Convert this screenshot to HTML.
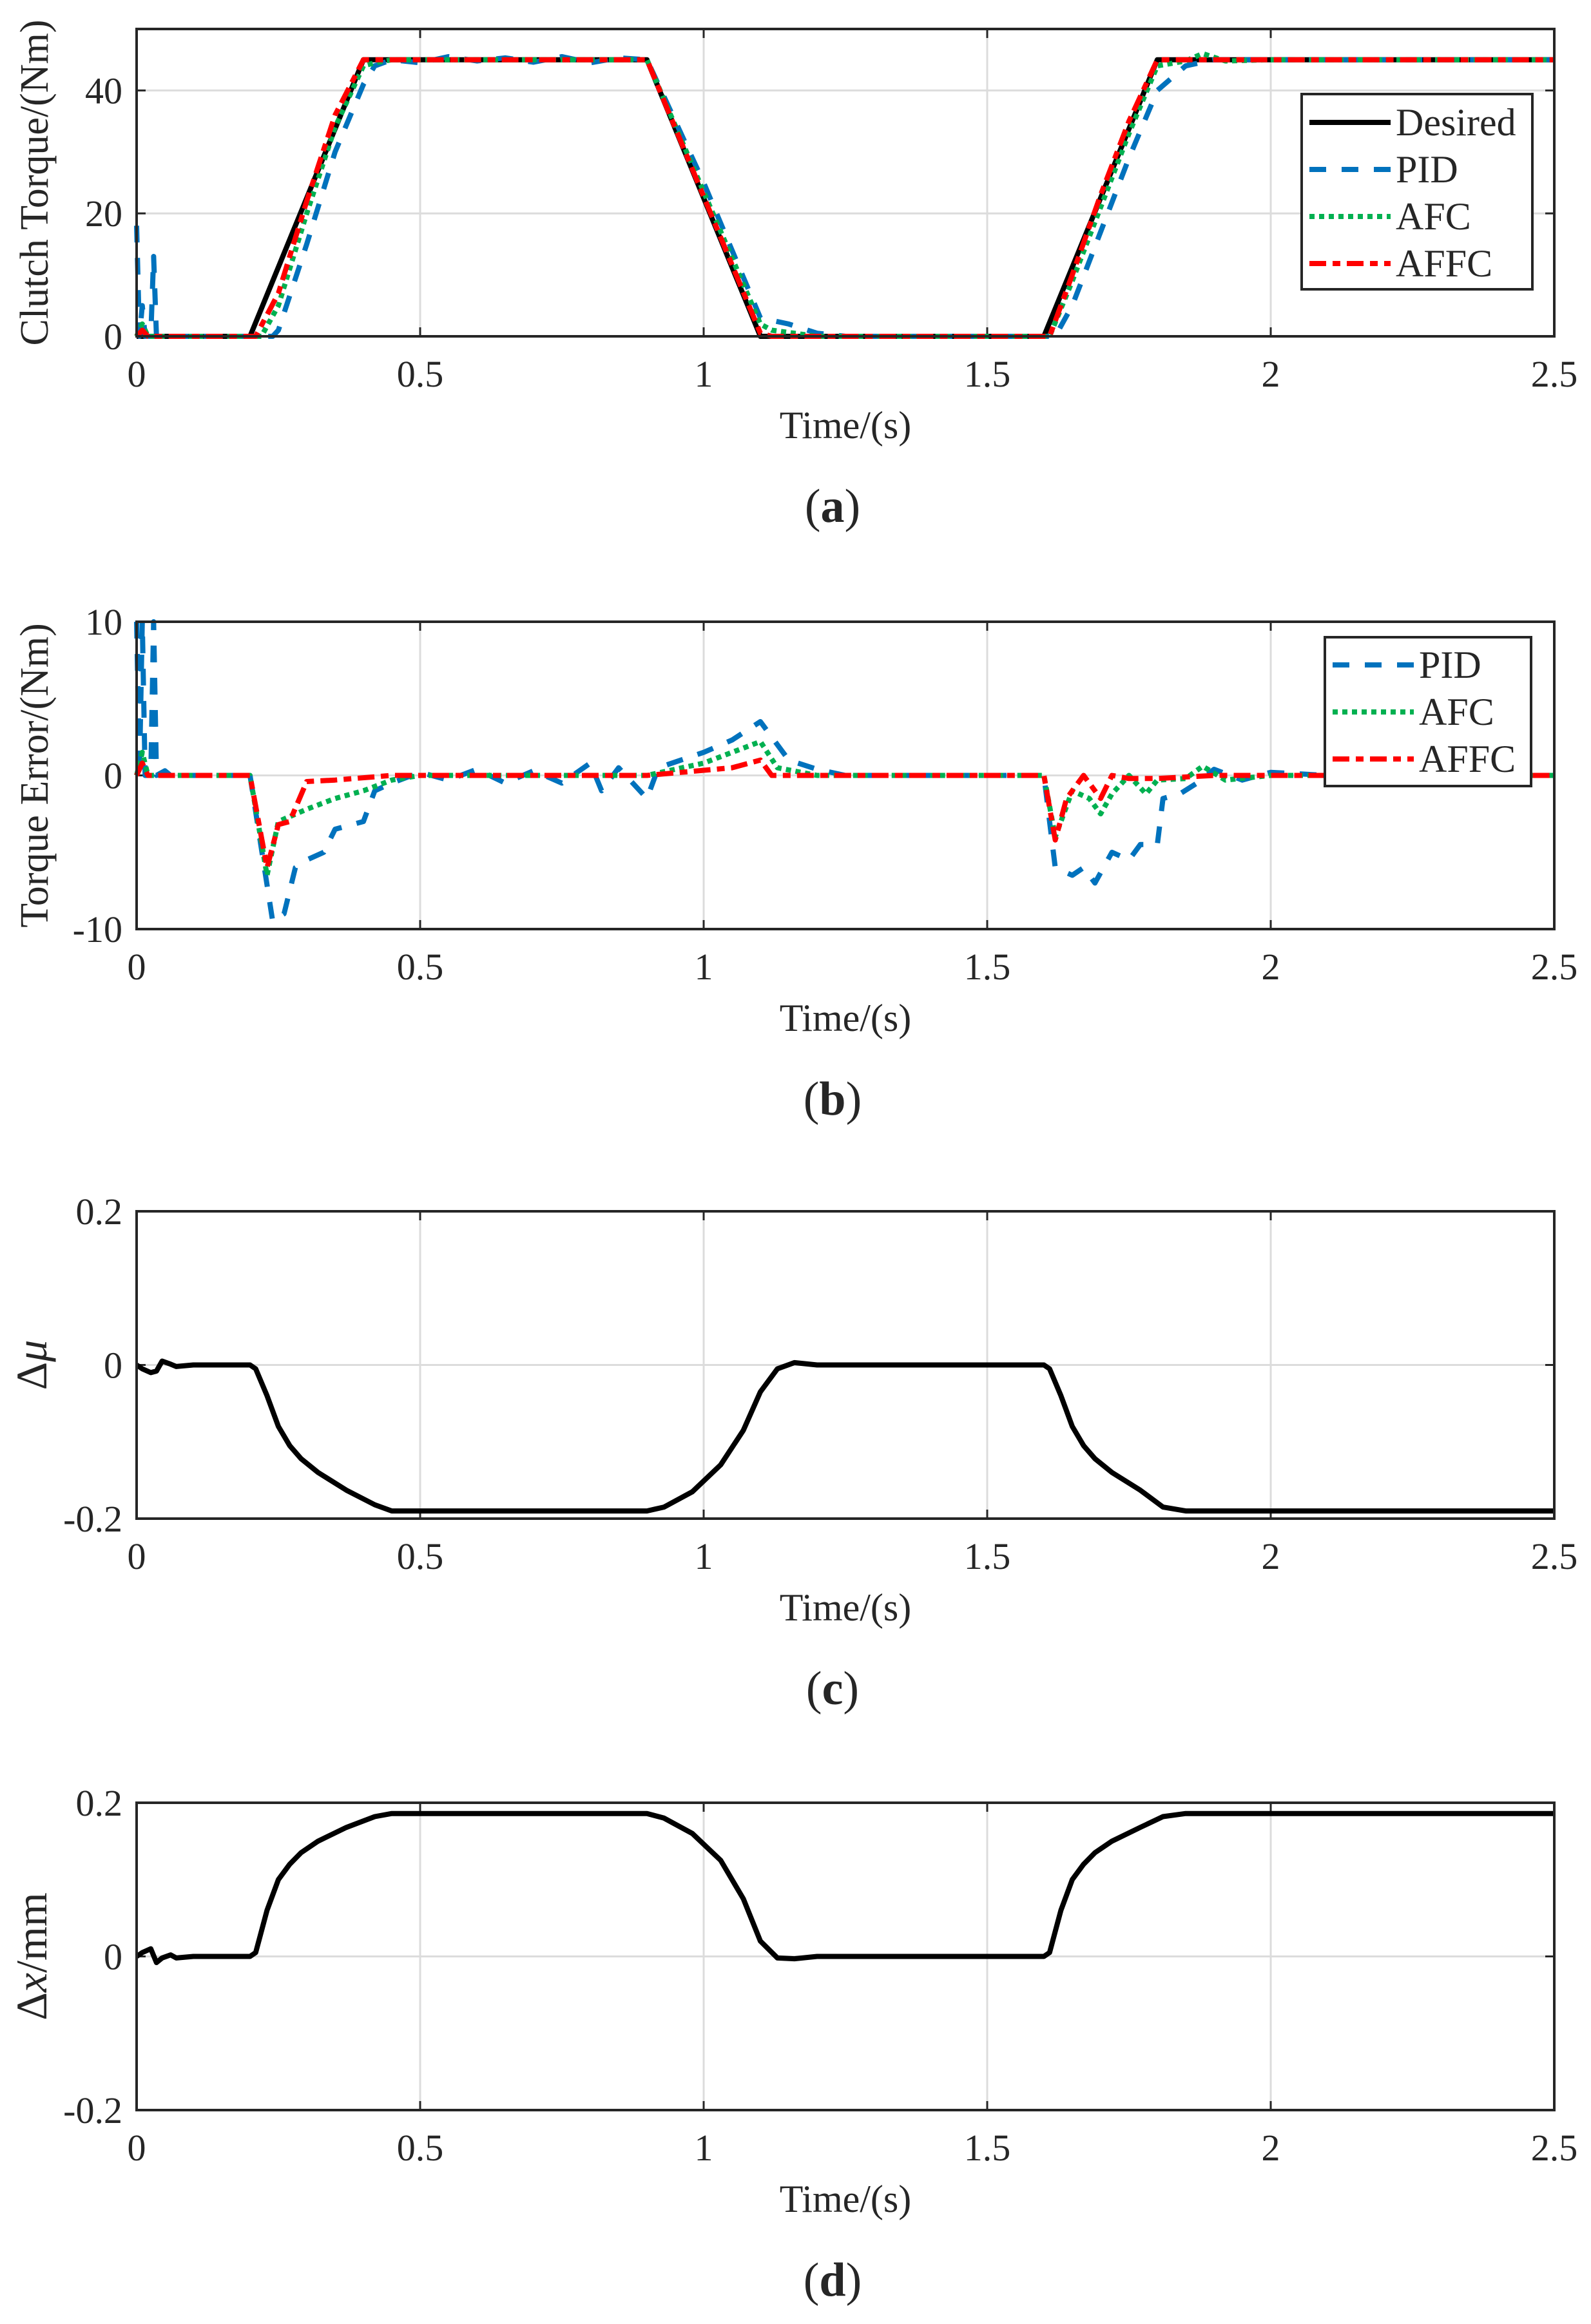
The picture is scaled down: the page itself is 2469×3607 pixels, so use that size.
<!DOCTYPE html>
<html><head><meta charset="utf-8"><style>
html,body{margin:0;padding:0;background:#fff}
svg text{font-family:"Liberation Serif",serif;fill:#262626}
</style></head><body>
<svg id="fig" width="2469" height="3602" viewBox="0 0 2469 3602" xmlns="http://www.w3.org/2000/svg"></svg>
<script>
// ---- data ----
const xTicks=[0,0.5,1,1.5,2,2.5];
const xTickLabels=["0","0.5","1","1.5","2","2.5"];
const aYTicks=[0,20,40];
const bYTicks=[-10,0,10];
const cYTicks=[-0.2,0,0.2];
const dYTicks=[-0.2,0,0.2];
const cYTickLabels=["-0.2","0","0.2"];
const aDesired=[[0,0],[0.2,0],[0.4,45],[0.9,45],[1.1,0],[1.6,0],[1.8,45],[2.5,45]];
const aPID=[[0,18],[0.005,0],[0.01,5],[0.015,0],[0.025,0],[0.03,13],[0.035,0],[0.05,0.5],[0.06,0],[0.24,0],[0.25,1],[0.3,15],[0.35,30],[0.4,41],[0.42,44],[0.45,45],[0.5,44.5],[0.55,45.5],[0.6,44.8],[0.65,45.3],[0.7,44.6],[0.75,45.5],[0.8,44.5],[0.85,45.3],[0.9,45],[1.0,25],[1.1,3],[1.15,2],[1.2,0.5],[1.25,0],[1.62,0],[1.65,5],[1.7,17],[1.75,29],[1.8,40],[1.85,44],[1.9,45],[2.5,45]];
const aAFC=[[0,0],[0.01,2],[0.02,0],[0.22,0],[0.25,5],[0.3,20],[0.35,34],[0.4,44],[0.42,44.5],[0.45,45],[0.9,45],[1.1,2],[1.12,1],[1.2,0],[1.61,0],[1.65,9],[1.7,21],[1.75,33],[1.8,44],[1.85,44.8],[1.88,46],[1.92,44.8],[2,45],[2.5,45]];
const aAFFC=[[0,0],[0.01,1],[0.02,0],[0.21,0],[0.25,7],[0.3,22],[0.35,36],[0.4,45],[0.9,45],[1.1,0.5],[1.12,0],[1.61,0],[1.65,10],[1.7,23],[1.75,35],[1.8,45],[2.5,45]];
const bPID=[[0,10],[0.005,0],[0.01,10],[0.015,0],[0.025,0],[0.03,10],[0.035,0],[0.05,0.3],[0.06,0],[0.2,0],[0.24,-9.5],[0.26,-9],[0.28,-6],[0.3,-5.5],[0.33,-5],[0.35,-3.5],[0.4,-3],[0.42,-1],[0.45,-0.5],[0.5,0.2],[0.55,-0.3],[0.6,0.4],[0.65,-0.5],[0.7,0.3],[0.75,-0.5],[0.8,0.8],[0.82,-1],[0.85,0.5],[0.9,-1.5],[0.92,0.5],[1.0,1.5],[1.05,2.3],[1.1,3.5],[1.15,1],[1.2,0.4],[1.25,0],[1.6,0],[1.62,-6],[1.65,-6.5],[1.67,-6],[1.69,-7],[1.72,-5],[1.75,-5.5],[1.77,-4.5],[1.8,-4.5],[1.81,-1.5],[1.84,-1.2],[1.87,-0.5],[1.9,0.4],[1.95,-0.3],[2,0.2],[2.1,0],[2.5,0]];
const bAFC=[[0,0],[0.01,1.5],[0.02,0],[0.2,0],[0.23,-6.5],[0.25,-3],[0.3,-2.2],[0.35,-1.5],[0.4,-1],[0.45,-0.3],[0.5,0],[0.9,0],[1.0,0.8],[1.1,2.2],[1.13,0.5],[1.2,0],[1.6,0],[1.62,-4],[1.65,-1],[1.68,-1.5],[1.7,-2.5],[1.72,-1.2],[1.75,0],[1.78,-1.2],[1.8,-0.3],[1.85,-0.2],[1.88,0.6],[1.92,-0.3],[2,0],[2.5,0]];
const bAFFC=[[0,0],[0.01,0.8],[0.02,0],[0.2,0],[0.23,-6],[0.25,-3.2],[0.27,-3],[0.3,-0.4],[0.35,-0.3],[0.45,0],[0.9,0],[1.05,0.5],[1.1,1],[1.12,0],[1.6,0],[1.62,-4.2],[1.64,-1.5],[1.67,0],[1.7,-1.5],[1.72,0],[1.75,-0.2],[1.8,-0.2],[1.9,0],[2.5,0]];
const cMu=[[0,0],[0.01,-0.005],[0.025,-0.01],[0.035,-0.008],[0.045,0.005],[0.06,0.001],[0.07,-0.002],[0.1,0],[0.2,0],[0.21,-0.005],[0.23,-0.04],[0.25,-0.08],[0.27,-0.105],[0.29,-0.122],[0.32,-0.14],[0.37,-0.163],[0.42,-0.182],[0.45,-0.19],[0.9,-0.19],[0.93,-0.185],[0.98,-0.165],[1.03,-0.13],[1.07,-0.085],[1.1,-0.035],[1.13,-0.005],[1.16,0.003],[1.2,0],[1.6,0],[1.61,-0.005],[1.63,-0.04],[1.65,-0.08],[1.67,-0.105],[1.69,-0.122],[1.72,-0.14],[1.77,-0.163],[1.81,-0.185],[1.85,-0.19],[2.5,-0.19]];
const dX=[[0,0],[0.01,0.005],[0.025,0.01],[0.035,-0.008],[0.045,-0.002],[0.06,0.002],[0.07,-0.002],[0.1,0],[0.2,0],[0.21,0.005],[0.23,0.06],[0.25,0.1],[0.27,0.12],[0.29,0.135],[0.32,0.15],[0.37,0.168],[0.42,0.182],[0.45,0.186],[0.9,0.186],[0.93,0.18],[0.98,0.16],[1.03,0.125],[1.07,0.075],[1.1,0.02],[1.13,-0.002],[1.16,-0.003],[1.2,0],[1.6,0],[1.61,0.005],[1.63,0.06],[1.65,0.1],[1.67,0.12],[1.69,0.135],[1.72,0.15],[1.77,0.168],[1.81,0.182],[1.85,0.186],[2.5,0.186]];

const NS="http://www.w3.org/2000/svg";
const svg=document.getElementById('fig');
function mk(tag,attrs,parent,txt){const e=document.createElementNS(NS,tag);for(const k in attrs)e.setAttribute(k,attrs[k]);if(txt!==undefined)e.textContent=txt;(parent||svg).appendChild(e);return e;}
const L=212,R=2412,H=477;
function xs(t){return L+(t-0)/(2.5-0)*(R-L);}

function panel(id,top,ymin,ymax,yTicks,yLabels,ylabel,ylabelItalic,series,caption){
  const g=mk('g',{});
  
  
  const bottom=top+H;
  const ys=v=>bottom-(v-ymin)/(ymax-ymin)*H;
  xTicks.forEach((t,i)=>{if(i>0&&i<xTicks.length-1){const l=mk('line',{x1:xs(t),x2:xs(t),y1:top,y2:bottom,stroke:'#dcdcdc','stroke-width':3},g);
    
    
    mk('line',{x1:xs(t),x2:xs(t),y1:top,y2:top+14,stroke:'#262626','stroke-width':3},g);
    mk('line',{x1:xs(t),x2:xs(t),y1:bottom,y2:bottom-14,stroke:'#262626','stroke-width':3},g);}});
  yTicks.forEach((v,i)=>{if(v>ymin&&v<ymax){const l=mk('line',{x1:L,x2:R,y1:ys(v),y2:ys(v),stroke:'#dcdcdc','stroke-width':3},g);
    
    
    mk('line',{x1:L,x2:L+14,y1:ys(v),y2:ys(v),stroke:'#262626','stroke-width':3},g);
    mk('line',{x1:R,x2:R-14,y1:ys(v),y2:ys(v),stroke:'#262626','stroke-width':3},g);}});
  series.forEach(s=>{
    const d=s.data.map((p,i)=>(i?'L':'M')+xs(p[0]).toFixed(1)+','+ys(p[1]).toFixed(1)).join(' ');
    const a={d:d,fill:'none',stroke:s.color,'stroke-width':s.w||8,'stroke-linejoin':'round'};
    if(s.dash)a['stroke-dasharray']=s.dash;
    const p=mk('path',a,g);
    
    
  });
  const b=mk('rect',{x:L,y:top,width:R-L,height:H,fill:'none',stroke:'#262626','stroke-width':4},g);
  
  
  xTicks.forEach((t,i)=>{const tx=mk('text',{x:xs(t),y:bottom+78,'font-size':58,'text-anchor':'middle'},g,xTickLabels[i]);
    
    });
  yTicks.forEach((v,i)=>{const tx=mk('text',{x:190,y:ys(v)+20,'font-size':58,'text-anchor':'end'},g,yLabels[i]);
    
    });
  const xt=mk('text',{x:(L+R)/2,y:bottom+158,'font-size':60,'text-anchor':'middle'},g,'Time/(s)');
  
  
  const yt=mk('text',{x:0,y:0,'font-size':ylabelItalic?68:62,'text-anchor':'middle',transform:`translate(${ylabelItalic?72:74},${top+H/2}) rotate(-90)`},g);
  
  
  if(ylabelItalic){mk('tspan',{},yt,ylabel[0]);mk('tspan',{'font-style':'italic'},yt,ylabel[1]);if(ylabel[2])mk('tspan',{},yt,ylabel[2]);}
  else yt.textContent=ylabel;
  const cp=mk('text',{x:(L+R)/2-20,y:bottom+288,'font-size':74,'text-anchor':'middle'},g);
  
  
  mk('tspan',{},cp,'(');mk('tspan',{'font-weight':'bold'},cp,caption);mk('tspan',{},cp,')');
  return g;
}
function legend(x,y,w,h,rows,rowY0,rowStep){
  const g=mk('g',{});
  
  
  mk('rect',{x:x,y:y,width:w,height:h,fill:'#fff',stroke:'#262626','stroke-width':4},g);
  rows.forEach((r,i)=>{const yy=rowY0+i*rowStep;
    const e=mk('g',{},g);
    
    
    const a={x1:x+12,x2:x+138,y1:yy,y2:yy,stroke:r.color,'stroke-width':8};
    if(r.dash)a['stroke-dasharray']=r.dash;
    mk('line',a,e);
    mk('text',{x:x+146,y:yy+20,'font-size':60,fill:'#000'},e,r.label);});
}
const sPID={color:'#0072bd',dash:'26,24',w:8};
const sAFC={color:'#00b050',dash:'8,7',w:8};
const sAFFC={color:'#ff0000',dash:'26,10,12,10',w:8};
panel('a',45,0,50,aYTicks,["0","20","40"],'Clutch Torque/(Nm)',false,[
  {data:aDesired,color:'#000',w:8,name:'line-desired'},
  Object.assign({data:aPID,name:'line-pid'},sPID),
  Object.assign({data:aAFC,name:'line-afc'},sAFC),
  Object.assign({data:aAFFC,name:'line-affc'},sAFFC)],'a');
legend(2020,146,358,303,[{label:'Desired',color:'#000'},{label:'PID',color:sPID.color,dash:sPID.dash},{label:'AFC',color:sAFC.color,dash:sAFC.dash},{label:'AFFC',color:sAFFC.color,dash:sAFFC.dash}],190,73);
panel('b',965,-10,10,bYTicks,["-10","0","10"],'Torque Error/(Nm)',false,[
  Object.assign({data:bPID,name:'line-pid-error'},sPID),
  Object.assign({data:bAFC,name:'line-afc-error'},sAFC),
  Object.assign({data:bAFFC,name:'line-affc-error'},sAFFC)],'b');
legend(2056,989,320,231,[{label:'PID',color:sPID.color,dash:sPID.dash},{label:'AFC',color:sAFC.color,dash:sAFC.dash},{label:'AFFC',color:sAFFC.color,dash:sAFFC.dash}],1032,73);
panel('c',1880,-0.2,0.2,cYTicks,cYTickLabels,['Δ','μ'],true,[{data:cMu,color:'#000',w:8,name:'line-delta-mu'}],'c');
panel('d',2798,-0.2,0.2,dYTicks,cYTickLabels,['Δ','x','/mm'],true,[{data:dX,color:'#000',w:8,name:'line-delta-x'}],'d');
</script>
</body></html>
